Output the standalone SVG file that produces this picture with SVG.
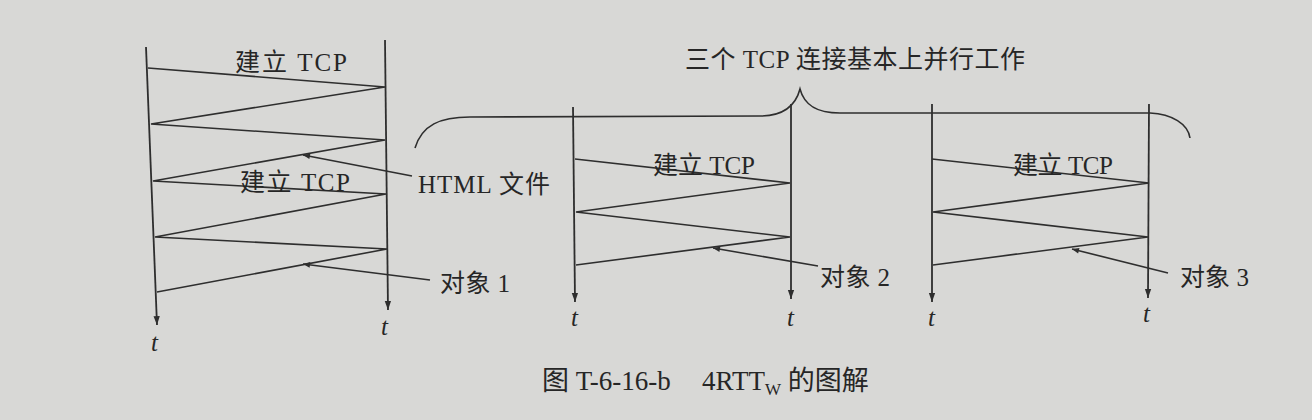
<svg xmlns="http://www.w3.org/2000/svg" width="1312" height="420" viewBox="0 0 1312 420">
<defs>
<marker id="ah" viewBox="0 0 10 10" refX="10" refY="5" markerWidth="8" markerHeight="7" markerUnits="userSpaceOnUse" orient="auto">
<path d="M0,1 L10,5 L0,9 z" fill="#2e2e2e"/>
</marker>
<marker id="ax" viewBox="0 0 10 10" refX="10" refY="5" markerWidth="12" markerHeight="9" markerUnits="userSpaceOnUse" orient="auto">
<path d="M0,1.5 L10,5 L0,8.5 z" fill="#2e2e2e"/>
</marker>
<style>
.ln{stroke:#2e2e2e;stroke-width:1.6;fill:none}
.ax{stroke:#2e2e2e;stroke-width:1.8;fill:none;marker-end:url(#ax)}
.pt{stroke:#2e2e2e;stroke-width:1.6;fill:none;marker-end:url(#ah)}
.tx{font-family:"Liberation Serif","Noto Sans CJK SC",serif;font-size:25px;fill:#262626}
.cap{font-family:"Liberation Serif","Noto Sans CJK SC",serif;font-size:27px;fill:#262626}
.sub{font-size:17px}
.t{font-family:"Liberation Serif",serif;font-style:italic;font-size:25px;fill:#262626}
</style>
</defs>
<rect width="1312" height="420" fill="#d8d8d6"/>

<g id="connectors">
<polyline class="ln" points="148,68 385,87 151,124 385,140 153,181 386,194 155,237 387,249 157,292"/>
<polyline class="ln" points="575,159 790,183 576,212 790,237 576,265"/>
<polyline class="ln" points="932,159 1149,183 933,212 1148,237 933,265"/>
<line class="pt" x1="412" y1="176" x2="303" y2="155"/>
<line class="pt" x1="430" y1="280" x2="303" y2="264"/>
<line class="pt" x1="818" y1="266" x2="713" y2="248"/>
<line class="pt" x1="1168" y1="273" x2="1072" y2="249"/>
<path class="ln" d="M415,148 C422,125 440,117 470,117 L760,116 C785,116 796,104 800,89 C804,104 815,113 840,113 L1150,113 C1172,114 1188,124 1190,138"/>
</g>

<g id="host-left-a">
<line class="ax" x1="146" y1="47" x2="157" y2="325"/>
<text class="t" x="151" y="351">t</text>
</g>
<g id="host-left-b">
<line class="ax" x1="385" y1="40" x2="388" y2="310"/>
<text class="t" x="381" y="335">t</text>
</g>
<g id="host-mid-a">
<line class="ax" x1="573" y1="107" x2="575" y2="302"/>
<text class="t" x="571" y="326">t</text>
</g>
<g id="host-mid-b">
<line class="ax" x1="791" y1="104" x2="791" y2="299"/>
<text class="t" x="787" y="326">t</text>
</g>
<g id="host-right-a">
<line class="ax" x1="932" y1="104" x2="932" y2="302"/>
<text class="t" x="928" y="326">t</text>
</g>
<g id="host-right-b">
<line class="ax" x1="1149" y1="104" x2="1148" y2="298"/>
<text class="t" x="1143" y="322">t</text>
</g>

<g id="labels">
<text class="tx" x="235" y="71" textLength="112" lengthAdjust="spacing">建立 TCP</text>
<text class="tx" x="240" y="191" textLength="110" lengthAdjust="spacing">建立 TCP</text>
<text class="tx" x="418" y="193" textLength="132" lengthAdjust="spacing">HTML 文件</text>
<text class="tx" x="440" y="292" textLength="70" lengthAdjust="spacing">对象 1</text>
<text class="tx" x="653" y="174" textLength="102" lengthAdjust="spacing">建立 TCP</text>
<text class="tx" x="820" y="286" textLength="70" lengthAdjust="spacing">对象 2</text>
<text class="tx" x="1013" y="174" textLength="100" lengthAdjust="spacing">建立 TCP</text>
<text class="tx" x="1180" y="286" textLength="69" lengthAdjust="spacing">对象 3</text>
<text class="tx" x="685" y="68" textLength="340" lengthAdjust="spacing">三个 TCP 连接基本上并行工作</text>
</g>

<g id="caption">
<text class="cap" x="542" y="390">图 T-6-16-b<tspan x="702">4RTT</tspan><tspan class="sub" dy="5">W</tspan><tspan dy="-5"> 的图解</tspan></text>
</g>
</svg>
